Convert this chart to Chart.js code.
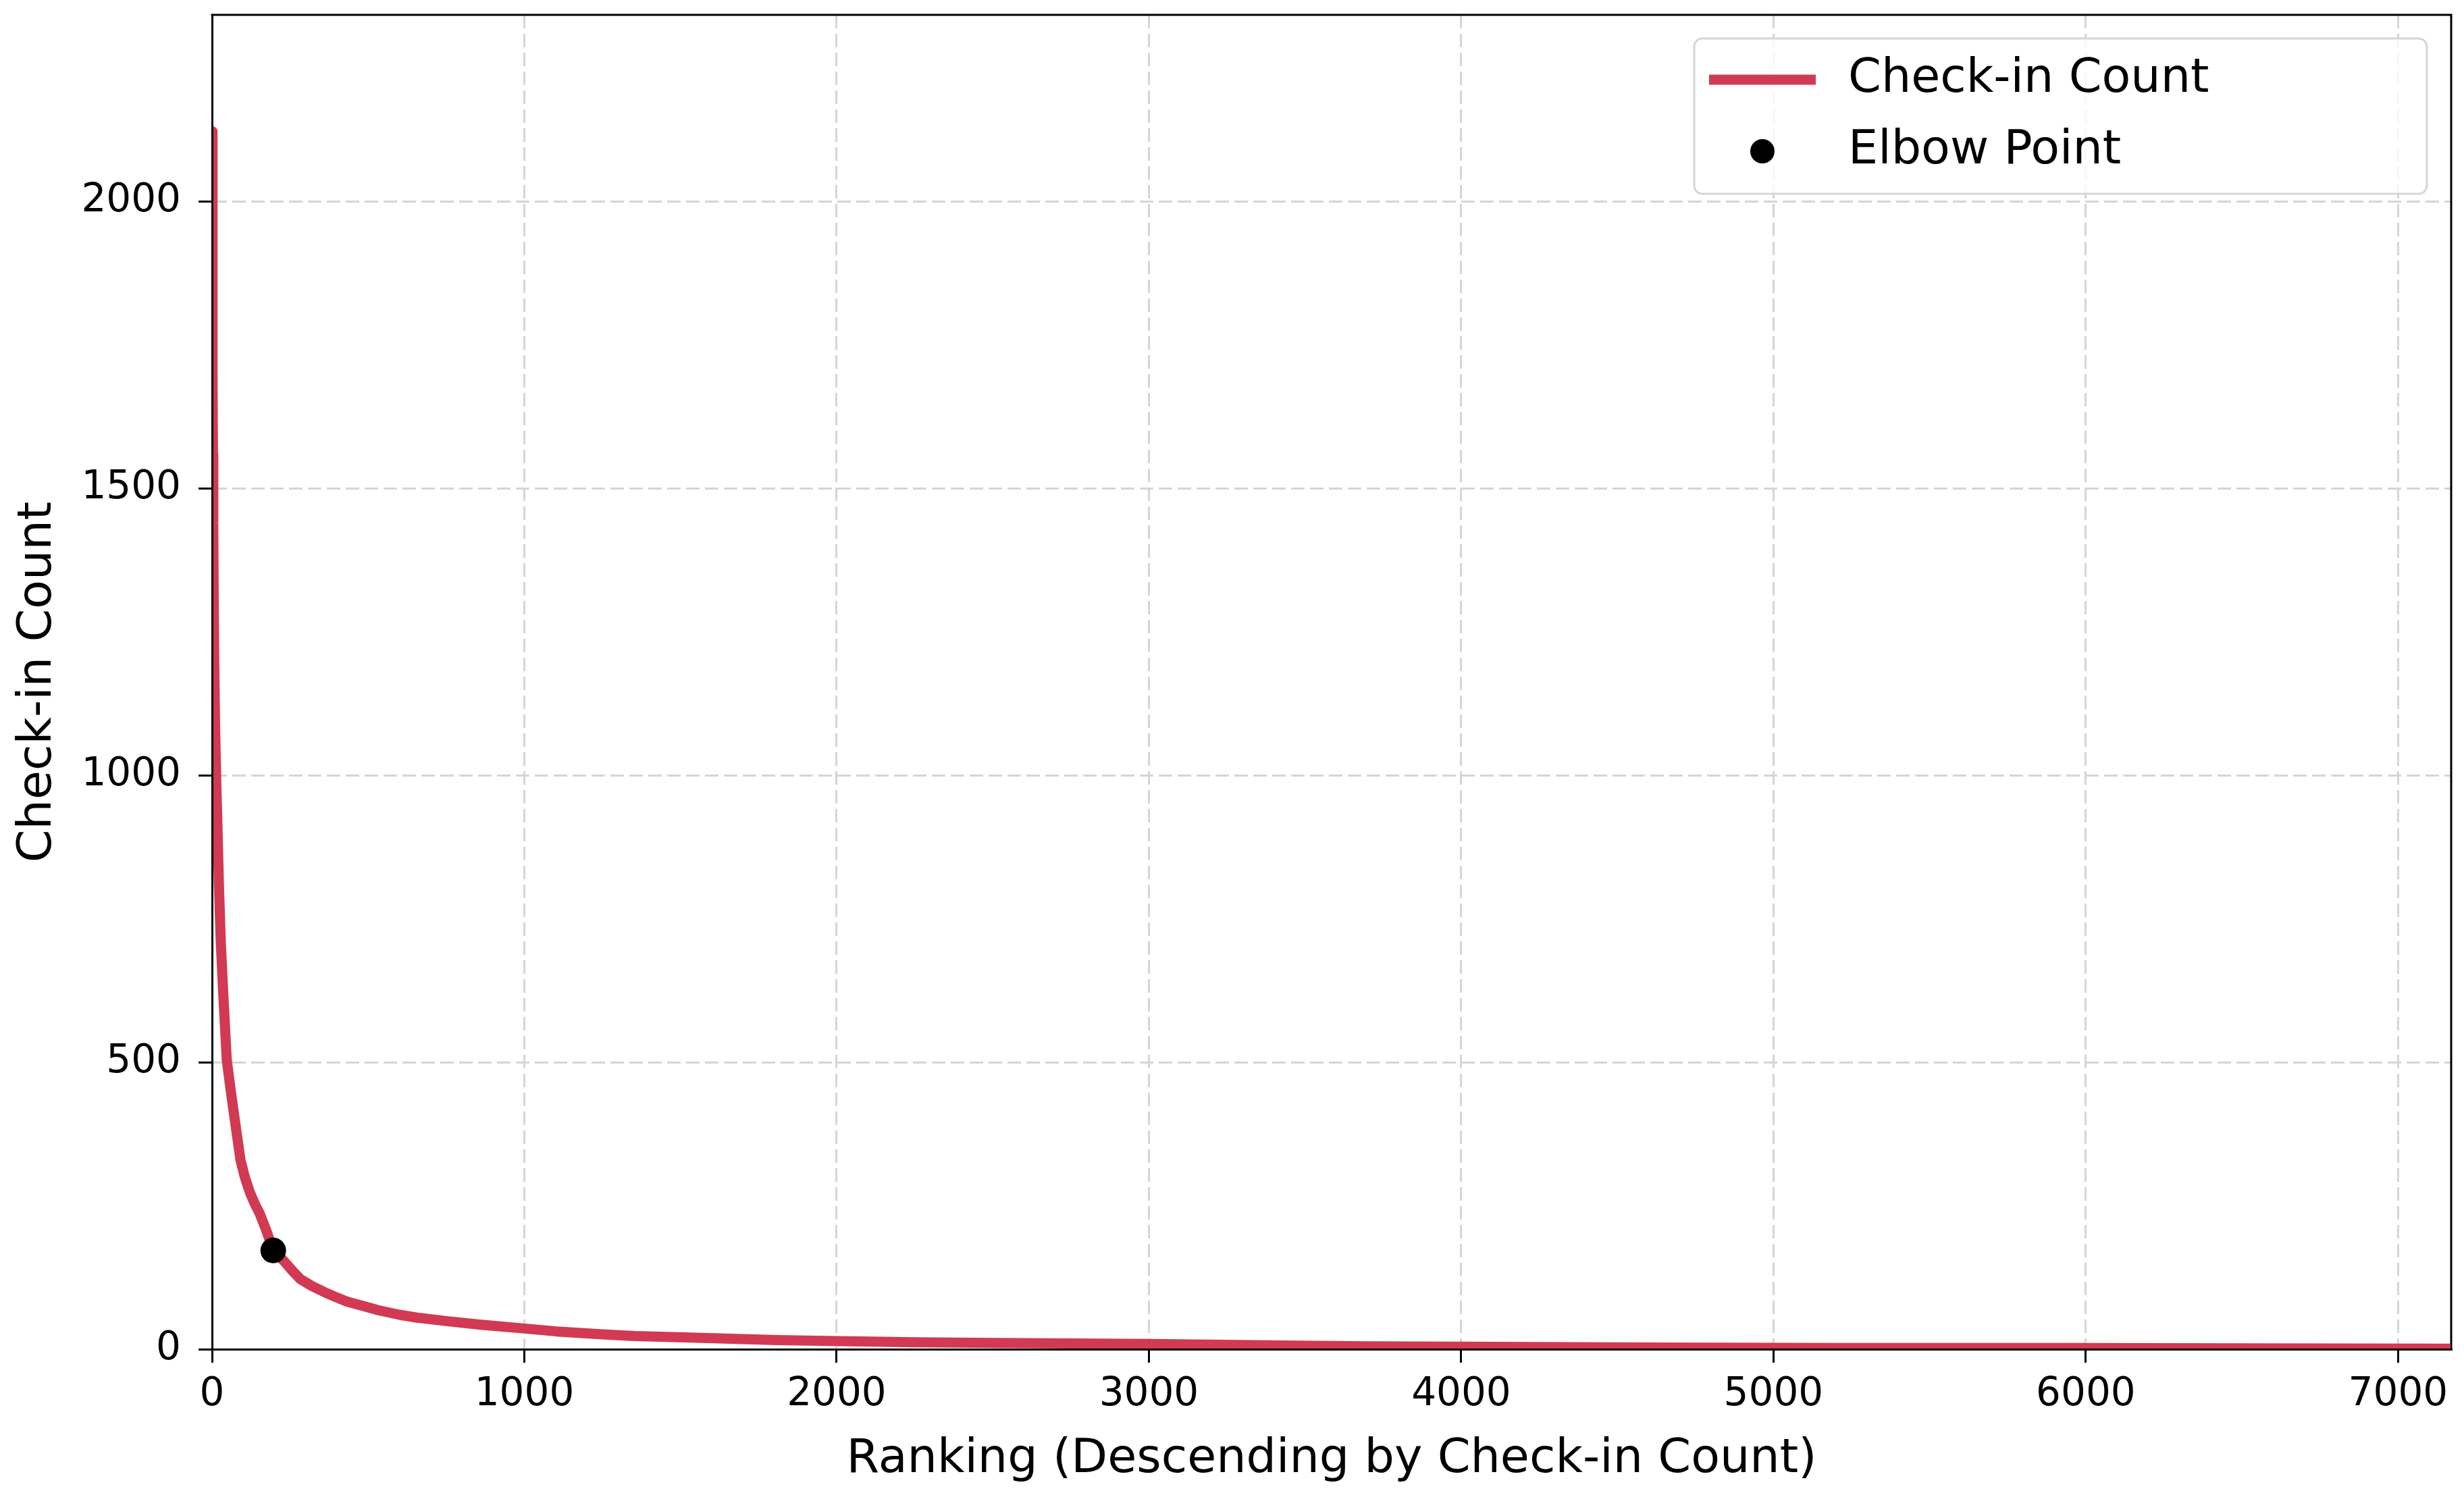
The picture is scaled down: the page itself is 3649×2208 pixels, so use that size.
<!DOCTYPE html>
<html>
<head>
<meta charset="utf-8">
<script src="https://cdn.jsdelivr.net/npm/chart.js@4.4.0/dist/chart.umd.min.js"></script>
<style>
  html, body { margin: 0; padding: 0; background: #fff; }
</style>
</head>
<body>
<canvas id="myChart" width="3649" height="2208"></canvas>
<script>
// ranking positions and check-in counts
const ranks = [0, 1, 2, 3, 4, 5, 7, 10, 14, 18, 22, 28, 35, 47, 60, 78, 91, 105, 122, 138, 153, 175, 196, 215, 233, 260, 283, 320, 358, 400, 432, 480, 532, 600, 656, 750, 855, 1000, 1103, 1250, 1352, 1550, 1809, 2000, 2250, 2500, 2750, 3000, 3430, 3700, 4100, 4600, 5200, 6000, 6500, 7166];
const checkins = [2122, 1880, 1700, 1560, 1440, 1340, 1200, 1080, 980, 900, 810, 710, 630, 505, 450, 380, 330, 300, 272, 252, 236, 205, 172, 162, 152, 135, 122, 110, 100, 90, 83, 76, 68, 60, 55, 49, 43, 36, 31, 26, 23, 20, 16, 14, 12, 11, 10, 9, 6.5, 5, 4, 3, 2, 2, 1.5, 1];

const elbowRank = [196];
const elbowCount = [172];

const xTicks = [0, 1000, 2000, 3000, 4000, 5000, 6000, 7000];
const yTicks = [0, 500, 1000, 1500, 2000];

const lineColor = '#d13a52';

Chart.defaults.font.family = '"DejaVu Sans", sans-serif';
Chart.defaults.color = '#000';

// top and right spines
const frame = {
    id: 'frame',
    afterDraw(chart) {
        const { ctx, chartArea: ca } = chart;
        ctx.save();
        ctx.strokeStyle = '#000';
        ctx.lineWidth = 3;
        ctx.beginPath();
        ctx.moveTo(ca.left - 1.5, ca.top);
        ctx.lineTo(ca.right, ca.top);
        ctx.lineTo(ca.right, ca.bottom + 1.5);
        ctx.stroke();
        ctx.restore();
    }
};

// matplotlib-like legend box in the upper right
const legendBox = {
    id: 'legendBox',
    afterDraw(chart) {
        const { ctx, chartArea: ca } = chart;
        const ds = chart.data.datasets;
        const w = 1085, h = 230, r = 12;
        const x0 = ca.right - 36 - w, y0 = ca.top + 35;
        ctx.save();
        ctx.beginPath();
        ctx.moveTo(x0 + r, y0);
        ctx.arcTo(x0 + w, y0, x0 + w, y0 + h, r);
        ctx.arcTo(x0 + w, y0 + h, x0, y0 + h, r);
        ctx.arcTo(x0, y0 + h, x0, y0, r);
        ctx.arcTo(x0, y0, x0 + w, y0, r);
        ctx.closePath();
        ctx.fillStyle = 'rgba(255,255,255,0.8)';
        ctx.fill();
        ctx.strokeStyle = '#d6d6d6';
        ctx.lineWidth = 3;
        ctx.stroke();

        const row1 = y0 + 61, row2 = y0 + 167;
        ctx.strokeStyle = ds[0].borderColor;
        ctx.lineWidth = ds[0].borderWidth;
        ctx.beginPath();
        ctx.moveTo(x0 + 22, row1);
        ctx.lineTo(x0 + 180, row1);
        ctx.stroke();

        ctx.fillStyle = ds[1].backgroundColor;
        ctx.beginPath();
        ctx.arc(x0 + 101, row2, 18, 0, Math.PI * 2);
        ctx.fill();

        ctx.fillStyle = '#000';
        ctx.font = '70px "DejaVu Sans"';
        ctx.textBaseline = 'middle';
        ctx.textAlign = 'left';
        ctx.fillText(ds[0].label, x0 + 228, row1);
        ctx.fillText(ds[1].label, x0 + 228, row2);
        ctx.restore();
    }
};

const ctx = document.getElementById('myChart').getContext('2d');
const myChart = new Chart(ctx, {
    type: 'scatter',
    data: {
        datasets: [{
            label: 'Check-in Count',
            data: ranks.map((r, i) => ({ x: r, y: checkins[i] })),
            showLine: true,
            borderColor: lineColor,
            backgroundColor: lineColor,
            borderWidth: 15,
            borderJoinStyle: 'round',
            pointRadius: 0,
            pointHoverRadius: 0,
            tension: 0,
            order: 2
        }, {
            label: 'Elbow Point',
            data: elbowRank.map((r, i) => ({ x: r, y: elbowCount[i] })),
            backgroundColor: '#000',
            borderColor: '#000',
            borderWidth: 0,
            pointRadius: 19,
            pointHoverRadius: 19,
            order: 1
        }]
    },
    options: {
        responsive: false,
        animation: false,
        devicePixelRatio: 1,
        layout: { padding: { top: 22, right: 19, left: 0, bottom: 0 } },
        plugins: {
            legend: { display: false },
            tooltip: { enabled: false }
        },
        scales: {
            x: {
                type: 'linear',
                position: 'bottom',
                min: 0,
                max: 7170,
                afterBuildTicks: s => { s.ticks = xTicks.map(v => ({ value: v })); },
                afterFit: s => { s.height = 210; s.paddingLeft = 0; s.paddingRight = 0; },
                ticks: {
                    font: { size: 58 },
                    color: '#000',
                    padding: 13,
                    maxRotation: 0,
                    autoSkip: false,
                    callback: v => String(v)
                },
                grid: { color: '#d5d5d5', lineWidth: 3, tickColor: '#000', tickLength: 20, tickWidth: 3 },
                border: { display: true, color: '#000', width: 3, dash: [20, 8], z: 1 },
                title: {
                    display: true,
                    text: 'Ranking (Descending by Check-in Count)',
                    font: { size: 70 },
                    color: '#000',
                    padding: { top: 0, bottom: 4 }
                }
            },
            y: {
                type: 'linear',
                min: 0,
                max: 2325,
                afterBuildTicks: s => { s.ticks = yTicks.map(v => ({ value: v })); },
                afterFit: s => { s.width = 314; s.paddingTop = 0; s.paddingBottom = 0; },
                ticks: {
                    font: { size: 58 },
                    color: '#000',
                    padding: 26,
                    callback: v => String(v)
                },
                grid: { color: '#d5d5d5', lineWidth: 3, tickColor: '#000', tickLength: 20, tickWidth: 3 },
                border: { display: true, color: '#000', width: 3, dash: [20, 8], z: 1 },
                title: {
                    display: true,
                    text: 'Check-in Count',
                    font: { size: 70 },
                    color: '#000',
                    padding: { top: 15, bottom: 0 }
                }
            }
        }
    },
    plugins: [frame, legendBox]
});
</script>
</body>
</html>
